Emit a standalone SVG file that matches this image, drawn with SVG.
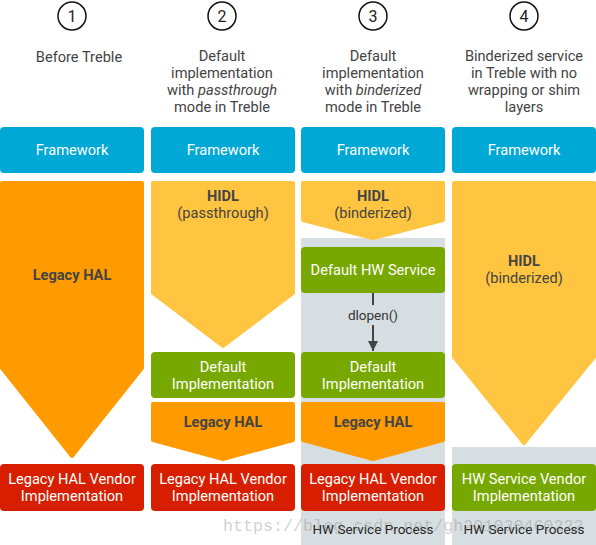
<svg xmlns="http://www.w3.org/2000/svg" width="596" height="545" viewBox="0 0 596 545">
<defs>
<style>
text{font-family:Roboto,"Liberation Sans",sans-serif;text-anchor:middle}
.hdr{font-size:14.6px;fill:#444}
.num{font-size:16px;fill:#222}
.circ{fill:#fff;stroke:#111;stroke-width:1.5}
.fw{fill:#00a8d5}
.wt{font-size:14.6px;fill:#fff}
.dk{font-size:14.6px;fill:#444}
.bold{font-weight:bold}
.orange{fill:#ff9b00;stroke:#ff9b00;stroke-width:4;stroke-linejoin:round}
.yellow{fill:#ffc440;stroke:#ffc440;stroke-width:4;stroke-linejoin:round}
.green{fill:#77a800}
.red{fill:#d71f00}
.bg{fill:#d7dee1}
.proc{font-size:13.5px;fill:#222}
</style>
<marker id="arr" viewBox="0 0 10 10" refX="10" refY="5" markerWidth="5" markerHeight="6.5" markerUnits="strokeWidth" orient="auto">
<path d="M0,0 L10,5 L0,10 z" fill="#444"/>
</marker>
</defs>
<rect width="596" height="545" fill="#fff"/>

<!-- process backgrounds -->
<g id="process-bg">
<rect class="bg" x="301" y="238" width="144" height="307"/>
<rect class="bg" x="452" y="447" width="144" height="98"/>
</g>

<!-- headers -->
<g id="header-1">
<circle class="circ" cx="72" cy="16" r="14"/>
<text class="num" x="72" y="22">1</text>
<text class="hdr" x="79" y="62">Before Treble</text>
</g>
<g id="header-2">
<circle class="circ" cx="222" cy="16" r="14"/>
<text class="num" x="222" y="22">2</text>
<text class="hdr" x="222" y="61">Default</text>
<text class="hdr" x="222" y="78">implementation</text>
<text class="hdr" x="222" y="95">with <tspan font-style="italic">passthrough</tspan></text>
<text class="hdr" x="222" y="112">mode in Treble</text>
</g>
<g id="header-3">
<circle class="circ" cx="373" cy="16" r="14"/>
<text class="num" x="373" y="22">3</text>
<text class="hdr" x="373" y="61">Default</text>
<text class="hdr" x="373" y="78">implementation</text>
<text class="hdr" x="373" y="95">with <tspan font-style="italic">binderized</tspan></text>
<text class="hdr" x="373" y="112">mode in Treble</text>
</g>
<g id="header-4">
<circle class="circ" cx="524" cy="16" r="14"/>
<text class="num" x="524" y="22">4</text>
<text class="hdr" x="524" y="61">Binderized service</text>
<text class="hdr" x="524" y="78">in Treble with no</text>
<text class="hdr" x="524" y="95">wrapping or shim</text>
<text class="hdr" x="524" y="112">layers</text>
</g>

<!-- Framework -->
<g id="framework-1"><rect class="fw" x="0" y="127" width="144" height="46" rx="4"/><text class="wt" x="72" y="155">Framework</text></g>
<g id="framework-2"><rect class="fw" x="151" y="127" width="144" height="46" rx="4"/><text class="wt" x="223" y="155">Framework</text></g>
<g id="framework-3"><rect class="fw" x="301" y="127" width="144" height="46" rx="4"/><text class="wt" x="373" y="155">Framework</text></g>
<g id="framework-4"><rect class="fw" x="452" y="127" width="144" height="46" rx="4"/><text class="wt" x="524" y="155">Framework</text></g>

<!-- Column 1 -->
<g id="legacy-hal-1">
<polygon class="orange" points="2,183 142,183 142,368 72,456 2,368"/>
<text class="dk bold" x="72" y="280">Legacy HAL</text>
</g>
<g id="vendor-1">
<rect class="red" x="0" y="464" width="144" height="47" rx="4"/>
<text class="wt" x="72" y="484">Legacy HAL Vendor</text>
<text class="wt" x="72" y="501">Implementation</text>
</g>

<!-- Column 2 -->
<g id="hidl-passthrough">
<polygon class="yellow" points="153,183 293,183 293,293 223,346 153,293"/>
<text class="dk bold" x="223" y="201">HIDL</text>
<text class="dk" x="223" y="218">(passthrough)</text>
</g>
<g id="default-impl-2">
<rect class="green" x="151" y="352" width="144" height="46" rx="4"/>
<text class="wt" x="223" y="372">Default</text>
<text class="wt" x="223" y="389">Implementation</text>
</g>
<g id="legacy-hal-2">
<polygon class="orange" points="153,404 293,404 293,440 223,459 153,440"/>
<text class="dk bold" x="223" y="427">Legacy HAL</text>
</g>
<g id="vendor-2">
<rect class="red" x="151" y="464" width="144" height="47" rx="4"/>
<text class="wt" x="223" y="484">Legacy HAL Vendor</text>
<text class="wt" x="223" y="501">Implementation</text>
</g>

<!-- Column 3 -->
<g id="hidl-binderized-3">
<polygon class="yellow" points="303,183 443,183 443,220 373,238 303,220"/>
<text class="dk bold" x="373" y="201">HIDL</text>
<text class="dk" x="373" y="218">(binderized)</text>
</g>
<g id="default-hw-service">
<rect class="green" x="301" y="247" width="144" height="46" rx="4"/>
<text class="wt" x="373" y="275">Default HW Service</text>
</g>
<g id="default-impl-3">
<rect class="green" x="301" y="352" width="144" height="46" rx="4"/>
<text class="wt" x="373" y="372">Default</text>
<text class="wt" x="373" y="389">Implementation</text>
</g>
<g id="legacy-hal-3">
<polygon class="orange" points="303,404 443,404 443,440 373,459 303,440"/>
<text class="dk bold" x="373" y="427">Legacy HAL</text>
</g>
<g id="vendor-3">
<rect class="red" x="301" y="464" width="144" height="47" rx="4"/>
<text class="wt" x="373" y="484">Legacy HAL Vendor</text>
<text class="wt" x="373" y="501">Implementation</text>
</g>
<g id="process-label-3"><text class="proc" x="373" y="534">HW Service Process</text></g>

<!-- Column 4 -->
<g id="hidl-binderized-4">
<polygon class="yellow" points="454,183 594,183 594,357 524,443 454,357"/>
<text class="dk bold" x="524" y="266">HIDL</text>
<text class="dk" x="524" y="283">(binderized)</text>
</g>
<g id="hw-vendor">
<rect class="green" x="452" y="464" width="144" height="47" rx="4"/>
<text class="wt" x="524" y="484">HW Service Vendor</text>
<text class="wt" x="524" y="501">Implementation</text>
</g>
<g id="process-label-4"><text class="proc" x="524" y="534">HW Service Process</text></g>

<!-- connectors -->
<g id="connectors">
<line x1="373" y1="293" x2="373" y2="305" stroke="#444" stroke-width="2"/>
<line x1="373" y1="325" x2="373" y2="351" stroke="#444" stroke-width="2" marker-end="url(#arr)"/>
<text x="373" y="320" style="font-size:13.5px;fill:#333">dlopen()</text>
</g>

<!-- watermark -->
<text x="223" y="531" style="font-family:'Liberation Mono',monospace;font-size:16.7px;fill:#888;fill-opacity:0.4;text-anchor:start">https://blog.csdn.net/gh201030460222</text>
</svg>
